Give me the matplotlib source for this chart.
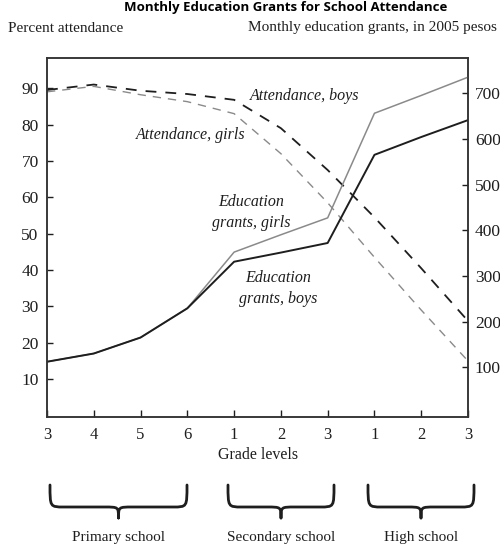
import matplotlib
matplotlib.use("Agg")
import matplotlib.pyplot as plt
from matplotlib.path import Path
from matplotlib.patches import PathPatch
import numpy as np

# ---- data ----
grade_labels = ["3", "4", "5", "6", "1", "2", "3", "1", "2", "3"]
attendance_boys = [89.5, 91.0, 89.3, 88.4, 86.8, 79.0, 67.5, 54.5, 40.5, 26.0]
attendance_girls = [89.0, 90.5, 88.2, 86.3, 83.0, 72.0, 58.5, 43.5, 29.0, 15.0]
grants_boys = [112, 130, 165, 229, 331, 351, 372, 565, 604, 641]
grants_girls = [112, 130, 165, 229, 352, 390, 427, 656, 695, 735]
left_ticks = [10, 20, 30, 40, 50, 60, 70, 80, 90]
right_ticks = [100, 200, 300, 400, 500, 600, 700]
school_groups = ["Primary school", "Secondary school", "High school"]

W, H = 500, 549
fig = plt.figure(figsize=(W / 100, H / 100), dpi=100)
serif = "Liberation Serif"

ax = fig.add_axes([47 / W, 1 - 417 / H, (468 - 47) / W, (417 - 58) / H])
ax2 = ax.twinx()

x = np.arange(len(grade_labels))
dark = "#1e1e1e"
gray = "#8a8a8a"

ax.plot(x, attendance_boys, color=dark, lw=1.3, dashes=(6, 5))
ax.plot(x, attendance_girls, color=gray, lw=1.0, dashes=(6, 5))
ax2.plot(x, grants_girls, color=gray, lw=1.1)
ax2.plot(x, grants_boys, color=dark, lw=1.4)

ax.set_xlim(0, 9)
ax.set_ylim(-0.4, 98.3)
ax2.set_ylim(-9, 777)

ax.set_xticks(x)
ax.set_xticklabels(grade_labels, fontfamily=serif, fontsize=12)
ax.set_yticks(left_ticks)
ax.set_yticklabels([str(t) for t in left_ticks], fontfamily=serif, fontsize=12.5)
ax2.set_yticks(right_ticks)
ax2.set_yticklabels([str(t) for t in right_ticks], fontfamily=serif, fontsize=12.5)

ax.tick_params(axis="x", direction="in", length=5, width=1, colors=dark, pad=7)
ax.tick_params(axis="y", direction="in", length=4, width=1, colors=dark, pad=6)
ax2.tick_params(axis="y", direction="in", length=4, width=1, colors=dark, pad=5)
for a in (ax, ax2):
    for s in a.spines.values():
        s.set_color("#333333")
        s.set_linewidth(1.1)

# in-plot labels
lab = dict(fontfamily=serif, style="italic", fontsize=11.5, ha="center",
           va="center", color=dark)
ax.text(5.51, 87.8, "Attendance, boys", **lab)
ax.text(3.08, 77.0, "Attendance, girls", **lab)
ax.text(4.36, 55.8, "Education\ngrants, girls", linespacing=1.45, **lab)
ax.text(4.94, 35.0, "Education\ngrants, boys", linespacing=1.45, **lab)

# header texts
fig.text(8 / W, 1 - 28 / H, "Percent attendance", fontfamily=serif,
         fontsize=11, ha="left", va="center", color=dark)
fig.text(497 / W, 1 - 28 / H, "Monthly education grants, in 2005 pesos",
         fontfamily=serif, fontsize=11, ha="right", va="center", color=dark)
fig.text(447 / W, 1 - 1 / H, "Monthly Education Grants for School Attendance",
         fontfamily="Open Sans", fontweight="bold", fontsize=9.5,
         ha="right", va="top", color="black")

fig.text(258 / W, 1 - 455 / H, "Grade levels", fontfamily=serif,
         fontsize=11.5, ha="center", va="center", color=dark)

# braces
def brace(x0, x1, ytop, ymid, ybot):
    xc = (x0 + x1) / 2
    r = 14
    pts = [
        (x0, ytop),
        (x0, ymid), (x0, ymid), (x0 + r, ymid),
        (xc - r, ymid),
        (xc, ymid), (xc, ymid), (xc, ybot),
        (xc, ymid), (xc, ymid), (xc + r, ymid),
        (x1 - r, ymid),
        (x1, ymid), (x1, ymid), (x1, ytop),
    ]
    codes = [Path.MOVETO,
             Path.CURVE4, Path.CURVE4, Path.CURVE4,
             Path.LINETO,
             Path.CURVE4, Path.CURVE4, Path.CURVE4,
             Path.CURVE4, Path.CURVE4, Path.CURVE4,
             Path.LINETO,
             Path.CURVE4, Path.CURVE4, Path.CURVE4]
    pts = [(px / W, 1 - py / H) for px, py in pts]
    p = PathPatch(Path(pts, codes), transform=fig.transFigure, fill=False,
                  edgecolor=dark, lw=2.0, capstyle="round", joinstyle="round")
    fig.patches.append(p)

brace_spans = [(50, 187), (228, 334), (368, 474)]
for (bx0, bx1), name in zip(brace_spans, school_groups):
    brace(bx0, bx1, 485, 507, 518)
    fig.text((bx0 + bx1) / 2 / W, 1 - 538 / H, name, fontfamily=serif,
             fontsize=11, ha="center", va="center", color=dark)

fig.savefig("out.png", dpi=100, facecolor="white")
